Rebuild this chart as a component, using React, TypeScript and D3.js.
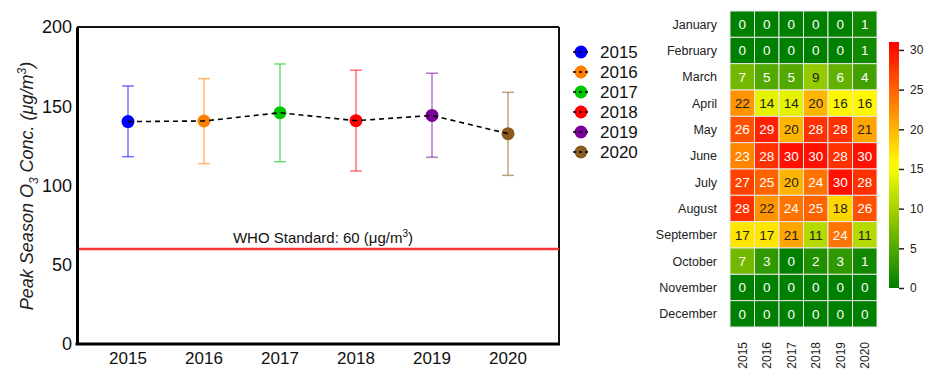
import React, { useEffect, useRef } from "react";
import * as d3 from "d3";

// left panel: peak season O3 mean with error bars
const years = ["2015", "2016", "2017", "2018", "2019", "2020"];
const meanO3 = [140.3, 140.7, 145.9, 140.9, 144.2, 132.7];
const upperO3 = [162.8, 167.4, 176.7, 172.7, 170.8, 158.8];
const lowerO3 = [118.2, 113.8, 115.0, 109.1, 117.8, 106.4];
const yearColors = ["#0000ff", "#ff8000", "#00c800", "#ff0000", "#7a0099", "#8b5a1e"];
const yTicks = [0, 50, 100, 150, 200];
const whoStandard = 60;

// right panel: days per month above standard
const months = [
  "January", "February", "March", "April", "May", "June",
  "July", "August", "September", "October", "November", "December",
];
const exceedDays = [
  [0, 0, 0, 0, 0, 1],
  [0, 0, 0, 0, 0, 1],
  [7, 5, 5, 9, 6, 4],
  [22, 14, 14, 20, 16, 16],
  [26, 29, 20, 28, 28, 21],
  [23, 28, 30, 30, 28, 30],
  [27, 25, 20, 24, 30, 28],
  [28, 22, 24, 25, 18, 26],
  [17, 17, 21, 11, 24, 11],
  [7, 3, 0, 2, 3, 1],
  [0, 0, 0, 0, 0, 0],
  [0, 0, 0, 0, 0, 0],
];
const colorbarTicks = [0, 5, 10, 15, 20, 25, 30];

const FONT = "'Liberation Sans', Arial, sans-serif";

export default function App() {
  const ref = useRef<SVGSVGElement>(null);

  useEffect(() => {
    const svg = d3.select(ref.current);
    svg.selectAll("*").remove();

    // ---------- left chart ----------
    const x = d3.scalePoint().domain(years).range([128, 508]);
    const y = d3.scaleLinear().domain([0, 200]).range([344, 27]);
    const left = 77;
    const right = 559;

    const rows = years.map((yr, i) => ({
      yr,
      mean: meanO3[i],
      hi: upperO3[i],
      lo: lowerO3[i],
      color: yearColors[i],
    }));

    // frame
    svg.append("line").attr("x1", left).attr("x2", right).attr("y1", y(200)).attr("y2", y(200))
      .attr("stroke", "#111").attr("stroke-width", 2);
    svg.append("line").attr("x1", right).attr("x2", right).attr("y1", y(200)).attr("y2", y(0))
      .attr("stroke", "#111").attr("stroke-width", 2);

    // WHO line
    svg.append("line").attr("x1", left).attr("x2", right)
      .attr("y1", y(whoStandard)).attr("y2", y(whoStandard))
      .attr("stroke", "#ff3333").attr("stroke-width", 2.5);
    const who = svg.append("text").attr("x", 323).attr("y", y(whoStandard) - 6)
      .attr("text-anchor", "middle").attr("font-family", FONT).attr("font-size", 15)
      .attr("fill", "#111");
    who.append("tspan").text("WHO Standard: 60 (μg/m");
    who.append("tspan").attr("font-size", 10).attr("dy", -6).text("3");
    who.append("tspan").attr("dy", 6).text(")");

    // axes
    svg.append("g").attr("transform", `translate(${left},0)`)
      .call(d3.axisLeft(y).tickValues(yTicks).tickSize(0).tickPadding(5))
      .call((g) => g.select(".domain").attr("stroke", "#000").attr("stroke-width", 3))
      .call((g) => g.selectAll("text").attr("font-family", FONT).attr("font-size", 18).attr("fill", "#111"));
    svg.append("line").attr("x1", left - 1.5).attr("x2", right + 1).attr("y1", y(0)).attr("y2", y(0))
      .attr("stroke", "#000").attr("stroke-width", 3);

    svg.append("g").selectAll("text").data(years).enter().append("text")
      .attr("x", (d) => x(d)!).attr("y", 364)
      .attr("text-anchor", "middle").attr("font-family", FONT).attr("font-size", 17)
      .attr("fill", "#111").text((d) => d);

    const title = svg.append("text")
      .attr("transform", "translate(33,186) rotate(-90)")
      .attr("text-anchor", "middle").attr("font-family", FONT).attr("font-size", 18)
      .attr("font-style", "italic").attr("fill", "#222");
    title.append("tspan").text("Peak Season O");
    title.append("tspan").attr("font-size", 12).attr("dy", 5).text("3");
    title.append("tspan").attr("dy", -5).text(" Conc. (μg/m");
    title.append("tspan").attr("font-size", 12).attr("dy", -7).text("3");
    title.append("tspan").attr("dy", 7).text(")");

    // error bars
    const eb = svg.append("g").selectAll("g").data(rows).enter().append("g")
      .attr("stroke", (d) => d.color).attr("stroke-opacity", 0.55).attr("stroke-width", 1.5);
    eb.append("line").attr("x1", (d) => x(d.yr)!).attr("x2", (d) => x(d.yr)!)
      .attr("y1", (d) => y(d.hi)).attr("y2", (d) => y(d.lo));
    eb.append("line").attr("x1", (d) => x(d.yr)! - 6).attr("x2", (d) => x(d.yr)! + 6)
      .attr("y1", (d) => y(d.hi)).attr("y2", (d) => y(d.hi));
    eb.append("line").attr("x1", (d) => x(d.yr)! - 6).attr("x2", (d) => x(d.yr)! + 6)
      .attr("y1", (d) => y(d.lo)).attr("y2", (d) => y(d.lo));

    svg.append("g").selectAll("circle").data(rows).enter().append("circle")
      .attr("cx", (d) => x(d.yr)!).attr("cy", (d) => y(d.mean)).attr("r", 6.5)
      .attr("fill", (d) => d.color);

    const line = d3.line<(typeof rows)[0]>().x((d) => x(d.yr)!).y((d) => y(d.mean));
    svg.append("path").attr("d", line(rows)).attr("fill", "none")
      .attr("stroke", "#000").attr("stroke-width", 1.6).attr("stroke-dasharray", "5,4");

    // legend
    const lg = svg.append("g").selectAll("g").data(rows).enter().append("g")
      .attr("transform", (d, i) => `translate(581,${52 + i * 20})`);
    lg.append("circle").attr("r", 6.5).attr("fill", (d) => d.color);
    lg.append("line").attr("x1", -8).attr("x2", 9).attr("stroke", "#000")
      .attr("stroke-width", 1.5).attr("stroke-dasharray", "3,3");
    lg.append("text").attr("x", 19).attr("dy", "0.36em").attr("font-family", FONT)
      .attr("font-size", 17).attr("fill", "#111").text((d) => d.yr);

    // ---------- heatmap ----------
    const hx = d3.scaleBand().domain(years).range([730, 877]);
    const hy = d3.scaleBand().domain(months).range([11, 327]);
    const color = d3.scaleLinear<string>().domain([0, 15.5, 31])
      .range(["#008000", "#ffff00", "#ff0000"]);

    const cells = months.flatMap((m, r) =>
      years.map((yr, c) => ({ m, yr, v: exceedDays[r][c] })));

    const cg = svg.append("g").selectAll("g").data(cells).enter().append("g");
    cg.append("rect")
      .attr("x", (d) => hx(d.yr)!).attr("y", (d) => hy(d.m)!)
      .attr("width", hx.bandwidth()).attr("height", hy.bandwidth())
      .attr("fill", (d) => color(d.v)).attr("stroke", "#e8e8e8").attr("stroke-width", 1);
    cg.append("text")
      .attr("x", (d) => hx(d.yr)! + hx.bandwidth() / 2)
      .attr("y", (d) => hy(d.m)! + hy.bandwidth() / 2)
      .attr("dy", "0.36em").attr("text-anchor", "middle")
      .attr("font-family", FONT).attr("font-size", 13.5)
      .attr("fill", (d) => (d.v >= 9 && d.v <= 22 ? "#222" : "#fff"))
      .text((d) => d.v);

    svg.append("g").selectAll("text").data(months).enter().append("text")
      .attr("x", 717).attr("y", (d) => hy(d)! + hy.bandwidth() / 2).attr("dy", "0.36em")
      .attr("text-anchor", "end").attr("font-family", FONT).attr("font-size", 12.5)
      .attr("fill", "#222").text((d) => d);

    svg.append("g").selectAll("text").data(years).enter().append("text")
      .attr("transform", (d) => `translate(${hx(d)! + hx.bandwidth() / 2},342) rotate(-90)`)
      .attr("dy", "0.36em").attr("text-anchor", "end")
      .attr("font-family", FONT).attr("font-size", 12).attr("fill", "#222").text((d) => d);

    // colorbar
    const cy = d3.scaleLinear().domain([0, 31]).range([288, 42]);
    const grad = svg.append("defs").append("linearGradient").attr("id", "cbar")
      .attr("x1", 0).attr("x2", 0).attr("y1", 1).attr("y2", 0);
    d3.range(0, 32).forEach((v) => {
      grad.append("stop").attr("offset", v / 31).attr("stop-color", color(v));
    });
    svg.append("rect").attr("x", 889).attr("y", cy(31)).attr("width", 10)
      .attr("height", cy(0) - cy(31)).attr("fill", "url(#cbar)");
    svg.append("g").attr("transform", "translate(899,0)")
      .call(d3.axisRight(cy).tickValues(colorbarTicks).tickSize(5).tickPadding(6))
      .call((g) => g.select(".domain").remove())
      .call((g) => g.selectAll("line").attr("stroke", "#222").attr("stroke-width", 1.5))
      .call((g) => g.selectAll("text").attr("font-family", FONT).attr("font-size", 12).attr("fill", "#222"));
  }, []);

  return (
    <svg
      ref={ref}
      width={928}
      height={388}
      style={{ position: "absolute", left: 0, top: 0, background: "#fff" }}
    />
  );
}
